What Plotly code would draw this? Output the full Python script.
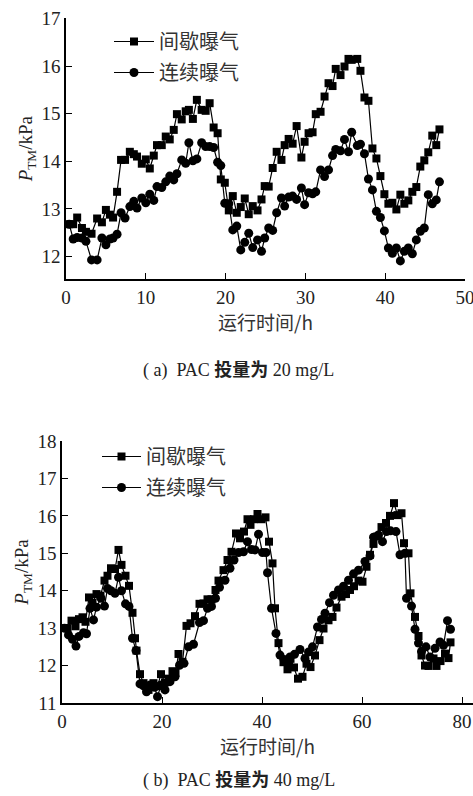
import plotly.graph_objects as go

# ---------------- (a) PAC 20 mg/L ----------------
a_int_t = [0.4,0.9,1.4,2.0,2.5,3.2,3.9,4.5,5.0,5.5,5.9,6.4,6.9,7.4,8.0,8.5,8.9,9.5,10.0,10.5,
           11.0,11.4,12.0,12.5,13.0,13.5,13.9,14.5,15.0,15.4,15.9,16.4,17.0,17.5,18.0,18.5,19.0,19.4,19.9,20.4,
           20.9,21.4,21.9,22.4,22.9,23.4,24.0,24.5,24.9,25.4,25.9,26.4,27.0,27.4,27.9,28.4,28.9,29.5,29.9,30.4,
           30.9,31.3,31.9,32.4,32.9,33.4,33.8,34.4,34.9,35.4,35.8,36.5,36.9,37.4,37.9,38.4,38.9,39.4,39.9,40.4,
           40.9,41.4,41.9,42.4,42.9,43.4,43.9,44.4,44.9,45.4,45.9,46.4,46.8]
a_int_v = [12.68,12.68,12.82,12.60,12.52,12.48,12.80,12.72,12.98,12.88,12.82,13.36,14.03,14.03,14.20,14.15,14.10,13.95,14.04,13.85,
           14.12,14.34,14.34,14.52,14.46,14.66,14.99,14.88,15.05,15.08,14.89,15.29,15.08,15.06,15.22,14.71,14.59,13.62,13.55,12.97,
           13.27,12.92,13.04,13.22,12.89,13.06,12.97,13.20,13.48,13.47,13.86,14.20,14.03,14.34,14.47,14.37,14.74,14.08,14.41,14.59,
           14.61,14.99,15.04,15.36,15.64,15.58,15.94,15.81,15.99,16.15,16.13,16.15,15.90,15.34,15.27,14.27,14.06,13.69,13.31,13.11,
           13.13,12.99,13.30,13.11,13.18,13.36,13.46,13.89,14.02,14.19,14.54,14.34,14.67]

a_con_v = [12.68,12.37,12.40,12.39,12.32,11.93,11.93,12.39,12.25,12.37,12.39,12.47,12.92,12.81,13.05,13.16,13.02,13.23,13.13,13.31,
           13.18,13.47,13.45,13.57,13.69,13.61,13.74,14.03,13.96,14.39,14.01,14.05,14.39,14.31,14.31,14.29,13.98,13.91,13.12,13.11,
           12.56,12.64,12.14,12.30,12.49,12.19,12.35,12.11,12.39,12.60,12.55,12.92,13.23,13.06,13.25,13.27,13.20,13.44,13.09,13.34,
           13.32,13.36,13.82,13.68,13.82,14.12,14.25,14.22,14.46,14.20,14.61,14.33,14.36,14.16,13.63,13.40,12.95,12.82,12.54,12.18,
           12.07,12.18,11.91,12.11,12.18,12.06,12.35,12.53,12.60,13.30,13.11,13.19,13.57,13.41]
# continuous series read at the same sampling times
a_con_t = a_int_t[:len(a_con_v)]

# ---------------- (b) PAC 40 mg/L ----------------
b_int_t = [0.5,1.1,1.9,2.7,3.4,4.1,4.7,5.4,6.1,6.9,7.7,8.5,9.1,9.8,10.6,11.3,11.9,12.7,13.4,14.1,
           14.6,14.9,15.6,16.3,17.3,18.3,19.1,19.8,20.6,21.4,22.1,22.7,23.3,24.1,24.9,25.7,26.6,27.5,28.3,29.1,
           29.9,30.7,31.3,32.3,33.1,33.9,34.8,35.6,36.4,37.1,37.7,38.4,39.1,39.9,40.7,41.4,42.1,42.6,43.3,44.3,
           45.1,45.7,46.4,47.2,48.1,48.9,49.7,50.6,51.5,52.3,53.3,54.1,54.9,55.9,56.8,57.6,58.4,59.3,60.1,60.9,
           61.6,62.3,63.1,63.9,64.8,65.6,66.4,67.1,67.9,68.4,69.3,69.7,70.6,71.3,71.9,72.6,73.3,74.3,74.9,75.7,
           76.6,77.3,77.7]
b_int_v = [13.00,13.00,13.20,13.05,13.24,13.29,13.17,13.82,13.68,13.91,13.87,14.27,14.40,14.60,14.58,15.09,14.69,14.40,14.13,13.41,
           12.73,12.40,11.77,11.53,11.35,11.53,11.45,11.77,11.55,11.65,11.85,11.80,12.31,12.10,13.06,13.13,13.32,13.65,13.66,13.77,
           13.77,14.02,14.27,14.55,14.82,15.04,15.53,15.40,15.58,15.91,15.76,15.91,16.05,15.91,15.96,15.31,14.73,13.53,12.60,12.09,
           11.90,12.18,11.95,11.65,11.70,12.05,11.96,12.27,12.68,12.99,13.21,13.30,13.55,13.84,13.91,14.02,14.12,14.27,14.24,14.64,
           14.96,15.25,15.45,15.70,15.81,16.00,16.34,16.02,16.07,15.27,15.00,13.93,13.30,12.79,12.27,12.00,11.99,12.19,11.99,12.12,
           12.32,12.20,12.62]

b_con_t = [0.5,1.3,2.1,2.8,3.4,4.3,4.9,5.6,6.3,6.9,7.8,8.5,9.1,9.8,10.6,11.3,11.9,12.7,13.4,14.1,
           14.8,15.6,16.3,16.9,17.6,18.5,19.1,19.8,20.6,21.6,22.6,23.5,24.4,25.3,26.3,27.5,28.3,29.1,29.9,30.7,
           31.5,32.6,33.6,34.4,35.3,36.3,37.1,37.9,38.6,39.3,40.1,40.8,41.1,41.9,42.8,43.6,44.4,45.3,45.6,46.5,
           47.6,48.6,49.3,50.1,51.1,51.9,52.6,53.5,54.3,55.3,56.3,57.3,58.3,59.3,60.6,61.6,62.3,63.3,64.1,64.9,
           65.7,66.8,67.6,68.6,68.9,69.9,70.6,71.3,71.9,72.8,73.6,74.6,75.6,76.3,77.1,77.7]
b_con_v = [13.00,12.82,12.70,12.52,12.78,12.88,12.85,13.53,13.22,13.56,13.80,13.59,14.06,14.00,13.93,14.36,14.00,13.65,13.58,12.73,
           12.40,11.51,11.46,11.30,11.48,11.42,11.17,11.48,11.35,11.57,11.70,12.01,12.06,12.50,12.57,13.15,13.20,13.53,13.58,13.80,
           14.09,14.28,14.60,14.82,15.02,15.04,15.31,15.10,15.09,15.51,15.02,15.02,14.48,13.53,12.86,12.28,12.16,12.06,12.23,12.30,
           12.43,12.19,12.36,12.50,13.03,13.23,13.40,13.68,13.88,14.02,14.12,14.28,14.45,14.55,14.78,14.93,15.43,15.49,15.31,15.58,
           15.60,15.58,14.96,15.00,13.80,13.59,12.97,12.60,12.38,12.50,12.23,12.46,12.63,12.54,13.20,12.97]

names = ["间歇曝气", "连续曝气"]
x_ticks_a = [0, 10, 20, 30, 40, 50]
y_ticks_a = [12, 13, 14, 15, 16, 17]
x_ticks_b = [0, 20, 40, 60, 80]
y_ticks_b = [11, 12, 13, 14, 15, 16, 17, 18]

SERIF = "Liberation Serif, Noto Sans CJK SC, serif"
CJK = "Noto Sans CJK SC, sans-serif"
W, H = 473, 796

fig = go.Figure()

def add(t, v, sym, name, xa, ya, leg, size):
    fig.add_trace(go.Scatter(
        x=t, y=v, mode="lines+markers", name=name,
        line=dict(color="black", width=1.2),
        marker=dict(symbol=sym, size=size, color="black"),
        xaxis=xa, yaxis=ya, legend=leg, legendgroup=leg + name,
        cliponaxis=False,
    ))

add(a_int_t, a_int_v, "square", names[0], "x", "y", "legend", 8)
add(a_con_t, a_con_v, "circle", names[1], "x", "y", "legend", 9)
add(b_int_t, b_int_v, "square", names[0], "x2", "y2", "legend2", 8)
add(b_con_t, b_con_v, "circle", names[1], "x2", "y2", "legend2", 9)

axis_common = dict(
    showline=True, linecolor="black", linewidth=1.5, mirror=False,
    ticks="inside", ticklen=6, tickwidth=1.2, tickcolor="black",
    showgrid=False, zeroline=False, automargin=False,
    ticklabeloverflow="allow",
    tickfont=dict(family=SERIF, size=19, color="#222"),
)

xtitle_font = dict(family=CJK, size=19, color="#333")
ytitle_font = dict(family=SERIF, size=19, color="#222")
leg_font = dict(family=CJK, size=20, color="#333")

fig.update_layout(
    width=W, height=H, margin=dict(l=0, r=0, t=0, b=0, autoexpand=False),
    paper_bgcolor="white", plot_bgcolor="white",
    xaxis=dict(domain=[66/W, 465/W], range=[0, 50], tickvals=x_ticks_a, anchor="y",
               title=dict(text="运行时间/h", font=xtitle_font, standoff=3),
               **axis_common),
    yaxis=dict(domain=[1-279/H, 1-18.4/H], range=[11.53, 17.0], tickvals=y_ticks_a, anchor="x",
               title=dict(text="<i>P</i><sub>TM</sub>/kPa", font=ytitle_font, standoff=4),
               **axis_common),
    xaxis2=dict(domain=[62/W, 1.0], range=[0, 82.2], tickvals=x_ticks_b, anchor="y2",
                title=dict(text="运行时间/h", font=xtitle_font, standoff=2),
                **axis_common),
    yaxis2=dict(domain=[1-703/H, 1-441/H], range=[11, 18], tickvals=y_ticks_b, anchor="x2",
                title=dict(text="<i>P</i><sub>TM</sub>/kPa", font=ytitle_font, standoff=4),
                **axis_common),
    legend=dict(x=109/W, y=1-22/H, xanchor="left", yanchor="top", bgcolor="rgba(0,0,0,0)",
                font=leg_font, tracegroupgap=2, itemwidth=40),
    legend2=dict(x=97/W, y=1-437/H, xanchor="left", yanchor="top", bgcolor="rgba(0,0,0,0)",
                 font=leg_font, tracegroupgap=2, itemwidth=39),
    showlegend=True,
)

fig.add_annotation(text="( a)  PAC <b>投量为</b> 20 mg/L", xref="paper", yref="paper",
                   x=239/W, y=1-371/H, xanchor="center", yanchor="middle", showarrow=False,
                   font=dict(family=SERIF, size=18, color="#222"))
fig.add_annotation(text="( b)  PAC <b>投量为</b> 40 mg/L", xref="paper", yref="paper",
                   x=239/W, y=1-780/H, xanchor="center", yanchor="middle", showarrow=False,
                   font=dict(family=SERIF, size=18, color="#222"))

fig.write_html("out.html", config={"displayModeBar": False},
               post_script="document.body.style.margin='0';document.body.style.overflow='hidden';")
